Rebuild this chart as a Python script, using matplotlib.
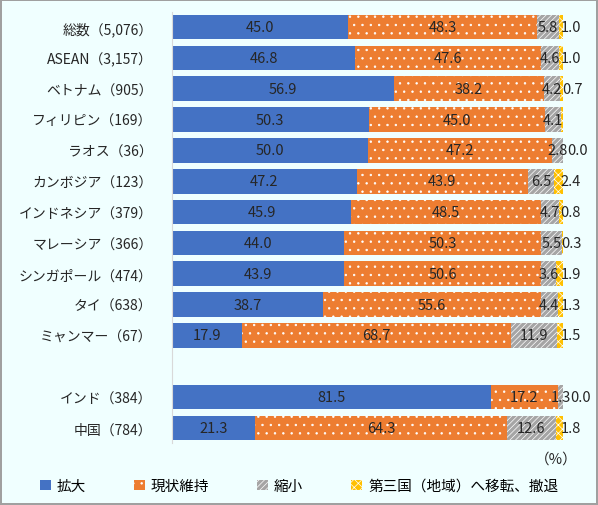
import matplotlib
matplotlib.use("Agg")
import matplotlib.pyplot as plt
import numpy as np

plt.rcParams['font.family'] = ['Noto Sans CJK JP', 'DejaVu Sans']
plt.rcParams['hatch.linewidth'] = 0.5

# data (%), top to bottom; None = empty spacer row
categories = ['総数（5,076）', 'ASEAN（3,157）', 'ベトナム（905）', 'フィリピン（169）',
              'ラオス（36）', 'カンボジア（123）', 'インドネシア（379）', 'マレーシア（366）',
              'シンガポール（474）', 'タイ（638）', 'ミャンマー（67）', None,
              'インド（384）', '中国（784）']
expand = [45.0, 46.8, 56.9, 50.3, 50.0, 47.2, 45.9, 44.0, 43.9, 38.7, 17.9, None, 81.5, 21.3]
keep = [48.3, 47.6, 38.2, 45.0, 47.2, 43.9, 48.5, 50.3, 50.6, 55.6, 68.7, None, 17.2, 64.3]
shrink = [5.8, 4.6, 4.2, 4.1, 2.8, 6.5, 4.7, 5.5, 3.6, 4.4, 11.9, None, 1.3, 12.6]
move = [1.0, 1.0, 0.7, 0.6, 0.0, 2.4, 0.8, 0.3, 1.9, 1.3, 1.5, None, 0.0, 1.8]
move_label = [True, True, True, False, True, True, True, True, True, True, True, None, True, True]

series_names = ['拡大', '現状維持', '縮小', '第三国（地域）へ移転、撤退']
colors = ['#4472C4', '#ED7D31', '#A5A5A5', '#FFC000']
hatches = [None, '..', '//////', 'xxxx']

fig = plt.figure(figsize=(5.98, 5.06), dpi=100)
fig.patch.set_facecolor('#F0FFFF')
fig.patch.set_edgecolor('#A0A0A0')
fig.patch.set_linewidth(1.5)
ax = fig.add_axes([172/598, 1-444.4/506, 391/598, (444.4-12.6)/506])
ax.set_facecolor('#F0FFFF')

n = len(categories)
y = np.arange(n)
rows = [i for i in range(n) if categories[i] is not None]

handles = []
series = [expand, keep, shrink, move]
left = np.zeros(n)
for k, vals in enumerate(series):
    v = np.array([vals[i] if vals[i] is not None else 0 for i in range(n)])
    b = ax.barh(y, v, left=left, height=0.8, color=colors[k],
                hatch=hatches[k], edgecolor='white', linewidth=0)
    handles.append(b)
    for i in rows:
        if k < 3:
            ax.text(left[i] + v[i] / 2, i, f'{v[i]:.1f}', ha='center', va='center',
                    fontsize=10.5, color='#262626')
    left = left + v

# labels for the last series, placed right of the bar
for i in rows:
    if not move_label[i]:
        continue
    gray_c = expand[i] + keep[i] + shrink[i] / 2
    x = max(99.3, gray_c + 2.6)
    ax.text(x, i, f'{move[i]:.1f}', ha='left', va='center', fontsize=10.5, color='#262626')

ax.set_xlim(0, 100)
ax.set_ylim(n - 0.5, -0.5)
ax.set_yticks(rows)
ax.set_yticklabels([categories[i] for i in rows], fontsize=10, color='#262626')
ax.tick_params(axis='y', length=0, pad=14)
ax.xaxis.set_visible(False)
for s in ['top', 'right', 'bottom']:
    ax.spines[s].set_visible(False)
ax.spines['left'].set_color('#D9D9D9')

fig.text(578/598, 1-460/506, '（%）', ha='right', va='center', fontsize=10.5, color='#262626')

fig.legend(handles, series_names, loc='center', bbox_to_anchor=(0.5, 1-487/506),
           ncol=4, frameon=False, fontsize=10.5, handlelength=0.75, handleheight=0.75,
           handletextpad=0.4, columnspacing=3.3)

fig.savefig('out.png', dpi=100, facecolor=fig.get_facecolor(), edgecolor=fig.get_edgecolor())
